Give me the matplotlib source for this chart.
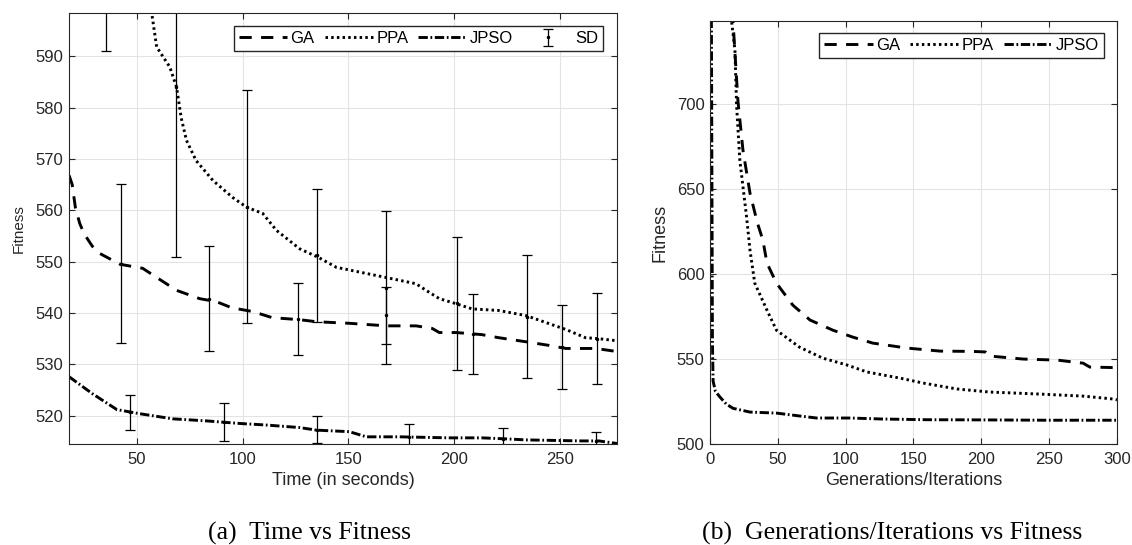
import matplotlib.pyplot as plt

# ─── Data: (a) Time vs Fitness ────────────────────────────────────────────────

ga_t = [18, 19.5, 21, 23, 25, 29, 32.5, 42, 52.8, 61, 68.9, 79.7, 87.7, 95, 104.7,
        114, 127, 135, 150.5, 168, 182, 189.6, 193, 201, 213, 221, 234, 244.8,
        252.8, 267, 277]
ga_f = [566.8, 565, 560.5, 557.5, 555.5, 553, 551.6, 549.5, 548.7, 546.5, 544.4,
        542.8, 542.2, 541, 540.3, 539.1, 538.7, 538.3, 538, 537.5, 537.5, 537,
        536.2, 536.2, 535.8, 535.2, 534.4, 533.7, 533.1, 533.1, 532.5]

ppa_t = [56.5, 59.4, 65.6, 68.8, 71, 73.5, 78, 86, 95.3, 101.9, 109.5, 116, 127,
         136, 144.3, 158.5, 168, 182, 186.8, 193, 201, 208.5, 221, 234, 243,
         252.8, 262, 268.4, 277]
ppa_f = [600, 591.8, 587.9, 584, 578, 573.6, 569.7, 565.8, 562.5, 560.6, 559.4,
         556.1, 552.5, 550.8, 548.9, 547.7, 546.9, 545.7, 544.4, 542.8, 541.8,
         540.8, 540.5, 539.5, 538.2, 536.8, 535.2, 535, 534.6]

jpso_t = [18, 29, 40.6, 51.4, 67, 83, 98.6, 111, 127, 135, 150.5, 158.5, 174,
          197.6, 213, 224.5, 234, 260, 268.4, 277]
jpso_f = [527.6, 524.3, 521.2, 520.4, 519.4, 519, 518.5, 518.2, 517.7, 517.2,
          516.9, 515.9, 515.9, 515.7, 515.7, 515.5, 515.3, 515.1, 515.1, 514.6]

sd_t = [35.4, 42.5, 46.7, 68.4, 84, 91, 101.9, 126, 135, 135, 168, 168, 178.8,
        201.5, 209, 223, 234.4, 250.9, 267.5, 267]
sd_mean = [611, 549.6, 520.7, 584, 542.8, 518.7, 560.7, 538.8, 517.3, 551.2,
           544.9, 539.6, 515.9, 541.9, 536, 515.5, 539.3, 533.4, 535, 515.1]
sd_err = [20, 15.5, 3.4, 33, 10.2, 3.7, 22.7, 7.05, 2.7, 12.9, 14.9, 5.55, 2.4,
          12.9, 7.8, 2.2, 11.9, 8.1, 8.85, 1.8]

# ─── Data: (b) Generations/Iterations vs Fitness ──────────────────────────────

ga_g = [16.5, 20.6, 24.3, 29.5, 35, 39, 42, 49, 61, 73.7, 90.6, 105, 120, 145,
        169.5, 194, 203, 206, 231, 256, 275, 280, 297, 300]
ga_fit = [755, 702, 673, 647.6, 630, 620, 606.5, 594.7, 581.8, 573, 567, 563,
          559.4, 556.5, 554.7, 554.5, 554.2, 551.8, 550, 549.4, 547.6, 545.3,
          545, 545]

ppa_g = [15, 18.4, 19.6, 22, 27, 29.5, 33, 42, 49, 66, 83, 101, 115.7, 140, 157,
         182, 206, 243, 275, 297, 300]
ppa_fit = [755, 731.8, 699.4, 667, 633.5, 614, 594.7, 578.8, 567, 557, 550.6,
           546.5, 542.4, 538.8, 535.9, 532.4, 530.6, 529.4, 528.2, 526.5, 526]

jpso_g = [1, 1.8, 2.3, 4, 7.4, 12, 17, 29.5, 49, 66, 78.6, 103, 127.5, 160, 200,
          250, 300]
jpso_fit = [760, 560, 537, 531, 527.6, 523.5, 521, 518.8, 518.2, 516.5, 515.3,
            515.3, 514.7, 514.3, 514.2, 514, 514]

# ─── Style ────────────────────────────────────────────────────────────────────

plt.rcParams["font.family"] = ["Liberation Sans", "DejaVu Sans"]
DARK = "#262626"
LW = 2.1
GA_STYLE = dict(color="black", lw=LW, dashes=(4.2, 3.2))
PPA_STYLE = dict(color="black", lw=LW, dashes=(0.85, 1.1))
JPSO_STYLE = dict(color="black", lw=LW, dashes=(3.2, 0.9, 0.6, 0.9))
LEGEND_KW = dict(borderaxespad=0, fontsize=12, handlelength=2.9,
                 handletextpad=0.2, columnspacing=0.6, borderpad=0.3,
                 fancybox=False, framealpha=1, edgecolor=DARK)


def style_axes(ax):
    ax.grid(True, color="#e3e3e3", lw=0.8)
    ax.set_axisbelow(True)
    ax.tick_params(direction="in", top=True, right=True, length=4, width=0.8,
                   color=DARK, labelcolor=DARK, labelsize=12)
    ax.tick_params(axis="x", pad=6)
    ax.tick_params(axis="y", pad=4)
    for s in ax.spines.values():
        s.set_color(DARK)
        s.set_linewidth(0.8)


def main():
    fig = plt.figure(figsize=(11.32, 5.45), dpi=100)

    # ── (a) ───────────────────────────────────────────────────────────────
    ax1 = fig.add_axes([0.061, 0.1853, 0.4841, 0.7908])
    ax1.plot(ga_t, ga_f, label="GA", **GA_STYLE)
    ax1.plot(ppa_t, ppa_f, label="PPA", **PPA_STYLE)
    ax1.plot(jpso_t, jpso_f, label="JPSO", **JPSO_STYLE)
    ax1.errorbar(sd_t, sd_mean, yerr=sd_err, fmt="o", ms=1.5, color="black",
                 ecolor="black", elinewidth=0.9, capsize=3.6, capthick=0.9,
                 label="SD")
    ax1.set_xlim(18, 277)
    ax1.set_ylim(514.5, 598.4)
    ax1.set_xticks([50, 100, 150, 200, 250])
    ax1.set_yticks([520, 530, 540, 550, 560, 570, 580, 590])
    style_axes(ax1)
    ax1.set_xlabel("Time (in seconds)", fontsize=13, color=DARK, labelpad=3)
    ax1.set_ylabel("Fitness", fontsize=11, color=DARK, labelpad=7)
    ax1.legend(ncol=4, loc="upper right", bbox_to_anchor=(0.9745, 0.9698),
               **LEGEND_KW)

    # ── (b) ───────────────────────────────────────────────────────────────
    ax2 = fig.add_axes([0.6272, 0.1853, 0.3595, 0.7761])
    ax2.plot(ga_g, ga_fit, label="GA", **GA_STYLE)
    ax2.plot(ppa_g, ppa_fit, label="PPA", **PPA_STYLE)
    ax2.plot(jpso_g, jpso_fit, label="JPSO", **JPSO_STYLE)
    ax2.set_xlim(0, 300)
    ax2.set_ylim(500, 749)
    ax2.set_xticks([0, 50, 100, 150, 200, 250, 300])
    ax2.set_yticks([500, 550, 600, 650, 700])
    style_axes(ax2)
    ax2.set_xlabel("Generations/Iterations", fontsize=13, color=DARK, labelpad=3)
    ax2.set_ylabel("Fitness", fontsize=13, color=DARK, labelpad=6)
    ax2.legend(ncol=3, loc="upper right", bbox_to_anchor=(0.968, 0.9716),
               **LEGEND_KW)

    # ── Captions ──────────────────────────────────────────────────────────
    cap = dict(fontsize=18.5, family="Liberation Serif", ha="center",
               va="baseline")
    fig.text(310 / 1132, 1 - 540 / 545, "(a)  Time vs Fitness", **cap)
    fig.text(892 / 1132, 1 - 540 / 545, "(b)  Generations/Iterations vs Fitness",
             **cap)

    fig.savefig("out.png", dpi=100)


if __name__ == "__main__":
    main()
